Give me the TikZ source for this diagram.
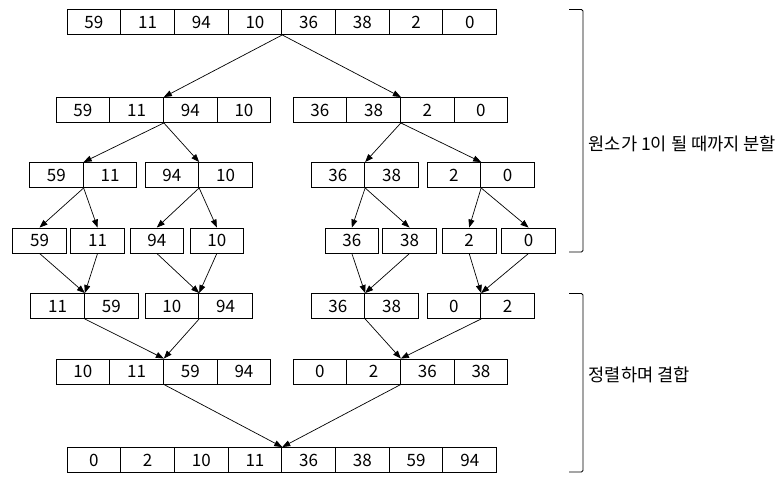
\documentclass[tikz,border=0pt]{standalone}
\usepackage{fontspec}
\setmainfont{Noto Sans CJK KR}
\usetikzlibrary{arrows.meta}
\newcommand\numrow[4]{\foreach \v [count=\i] in {#4}
 \node[cell] (#1-\i) at ({#2+(\i-.5)*53.7},#3) {\v};}

\begin{document}
\begin{tikzpicture}[x=1pt,y=-1pt,>={Triangle[length=8pt,width=6pt]},
 cell/.style={draw,minimum width=53.7pt,minimum height=25pt,inner sep=0pt,line width=.9pt,font=\fontsize{17}{19}\selectfont},
 lbl/.style={anchor=west,inner sep=0pt,font=\fontsize{17.6}{20}\selectfont}]
\useasboundingbox (0,0) rectangle (782,482);
\numrow{t}{67}{22}{59,11,94,10,36,38,2,0}
\numrow{a}{56}{110}{59,11,94,10}
\numrow{b}{293}{110}{36,38,2,0}
\numrow{c}{29.5}{175}{59,11}
\numrow{d}{145}{175}{94,10}
\numrow{e}{311}{175}{36,38}
\numrow{f}{427}{175}{2,0}
\foreach \x/\v [count=\i] in {12.7/59,70.7/11,130/94,190/10,325/36,382.7/38,442.3/2,501.7/0}
 \node[cell] (s\i) at ({\x+26.85},240.5) {\v};
\numrow{h}{30.7}{306}{11,59}
\numrow{k}{145}{306}{10,94}
\numrow{j}{311}{306}{36,38}
\numrow{q}{427}{306}{0,2}
\numrow{m}{56}{371.5}{10,11,59,94}
\numrow{n}{293}{371.5}{0,2,36,38}
\numrow{z}{67}{460}{0,2,10,11,36,38,59,94}
\foreach \p/\q in {t-4/a-2,t-4/b-2,a-2/c-1,a-2/d-1,b-2/e-1,b-2/f-1,h-1/m-2,k-1/m-2,j-1/n-2,q-1/n-2,m-2/z-4,n-2/z-4}
 \draw[->,line width=.7pt] (\p.south east) -- (\q.north east);
\foreach \p/\q in {c-1/s1,c-1/s2,d-1/s3,d-1/s4,e-1/s5,e-1/s6,f-1/s7,f-1/s8}
 \draw[->,line width=.7pt] (\p.south east) -- (\q.north);
\foreach \p/\q in {s1/h-1,s2/h-1,s3/k-1,s4/k-1,s5/j-1,s6/j-1,s7/q-1,s8/q-1}
 \draw[->,line width=.7pt] (\p.south) -- (\q.north east);
\draw[line width=.9pt,rounded corners=1.5pt] (569,9.5) -- (583,9.5) -- (583,252) -- (569,252);
\draw[line width=.9pt,rounded corners=1.5pt] (569,293.5) -- (583,293.5) -- (583,472) -- (569,472);
\node[lbl] (split) at (588.5,144) {원소가 1이 될 때까지 분할};
\node[lbl] (merge) at (588.5,375) {정렬하며 결합};
\end{tikzpicture}
\end{document}
